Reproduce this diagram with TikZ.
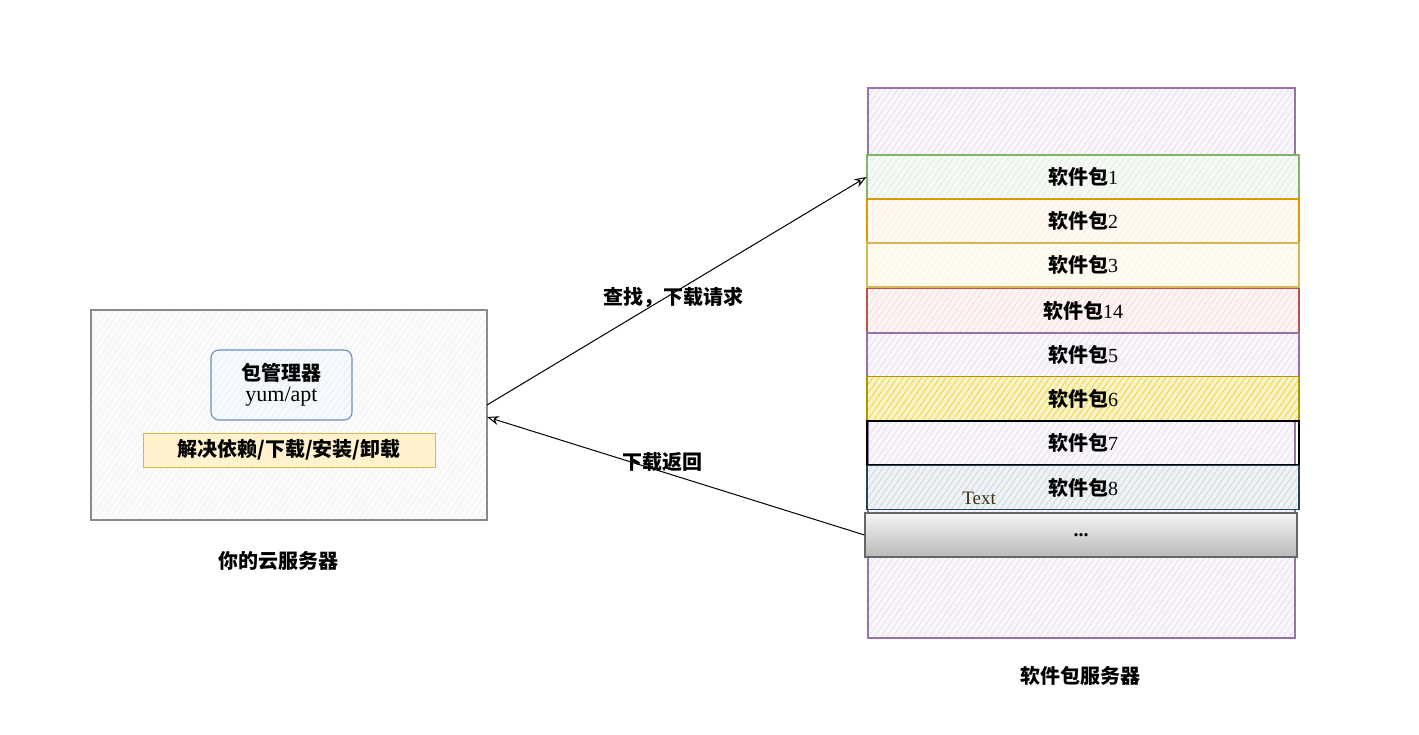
\documentclass[tikz,border=0pt]{standalone}
\usepackage{fontspec}
\setmainfont{Liberation Serif}
\newfontfamily\cjk{Noto Sans CJK SC}
\usetikzlibrary{patterns.meta,arrows.meta}
\definecolor{gborder}{HTML}{82B366}\definecolor{gfill}{HTML}{D5E8D4}
\definecolor{oborder}{HTML}{D79B00}\definecolor{ofill}{HTML}{FFE6CC}
\definecolor{yborder}{HTML}{D6B656}\definecolor{yfill}{HTML}{FFF2CC}
\definecolor{rborder}{HTML}{B85450}\definecolor{rfill}{HTML}{F8CECC}
\definecolor{pborder}{HTML}{9673A6}\definecolor{pfill}{HTML}{E1D5E7}
\definecolor{y2border}{HTML}{B09500}\definecolor{y2fill}{HTML}{E3C800}
\definecolor{bborder}{HTML}{23445D}\definecolor{bfill}{HTML}{BAC8D3}
\definecolor{lborder}{HTML}{6C8EBF}\definecolor{lfill}{HTML}{DAE8FC}
\definecolor{grborder}{HTML}{666666}
\definecolor{lgborder}{HTML}{8A8A8A}
\definecolor{grfill}{HTML}{EDEDED}
\definecolor{textc}{HTML}{3A3014}
\tikzset{
  hatch/.style 2 args={draw=#1, line width=1.1pt,
    preaction={fill=#2!22},
    pattern={Lines[angle=55,distance=5pt,line width=0.7pt]}, pattern color=#2!80},
  rowbox/.style={minimum width=432pt, minimum height=44pt, inner sep=0pt, font=\fontsize{20}{23}\selectfont},
  lbl/.style={font=\cjk\bfseries\fontsize{20}{23}\selectfont},
  conn/.style={draw=black, line width=1pt, -{Stealth[length=12pt,width=9pt,open]}},
}
\newcommand{\pkg}[1]{{\cjk\bfseries 软件包}#1}
\begin{document}
\begin{tikzpicture}[x=1pt,y=-1pt]
\useasboundingbox[fill=white] (0,0) rectangle (1419,735);
% left server box
\node[hatch={lgborder}{grfill}, minimum width=396pt, minimum height=210pt, inner sep=0pt] (lb) at (289,415) {};
\node[hatch={lborder}{lfill}, rounded corners=8pt, minimum width=141pt, minimum height=70pt, inner sep=0pt, align=center] (pm) at (281.5,385)
  {{\cjk\bfseries\fontsize{20}{23}\selectfont 包管理器}\\[4pt]{\fontsize{22}{24}\selectfont yum/apt}};
\node[draw=yborder, fill=yfill, line width=1pt, minimum width=292pt, minimum height=34pt, inner sep=0pt, lbl] (yb) at (289,450) {解决依赖/下载/安装/卸载};
\node[lbl] (lbname) at (278,561) {你的云服务器};
% right server box
\node[hatch={pborder}{pfill}, minimum width=427pt, minimum height=550pt, inner sep=0pt] (rb) at (1081.5,363) {};
\node[rowbox, hatch={gborder}{gfill}] (r1) at (1083,177) {\pkg{1}};
\node[rowbox, hatch={oborder}{ofill}] (r2) at (1083,221) {\pkg{2}};
\node[rowbox, hatch={yborder}{yfill}] (r3) at (1083,265) {\pkg{3}};
\node[rowbox, hatch={rborder}{rfill}] (r4) at (1083,310.5) {\pkg{14}};
\node[rowbox, hatch={pborder}{pfill}] (r5) at (1083,355) {\pkg{5}};
\node[rowbox, hatch={y2border}{y2fill}] (r6) at (1083,398.5) {\pkg{6}};
\node[rowbox, draw=black, line width=1.1pt] (r7) at (1083,443) {\pkg{7}};
\node[rowbox, hatch={bborder}{bfill}] (r8) at (1083,487.5) {\pkg{8}};
\node[rowbox, draw=grborder, line width=1.1pt, top color=gray!8, bottom color=gray!55] (dots) at (1081,535) {\textbf{...}};
\node[font=\fontsize{19}{22}\selectfont, text=textc] (txt) at (979,498) {Text};
\node[lbl] (rbname) at (1080,676) {软件包服务器};
% connectors
\coordinate (a1) at (487,405);
\coordinate (a2) at (487,417);
\draw[conn] (a1) -- (r1.west);
\draw[conn] (dots.west) -- (a2);
\node[lbl] (l1) at (673,297) {查找，下载请求};
\node[lbl] (l2) at (662,462) {下载返回};
\end{tikzpicture}
\end{document}
